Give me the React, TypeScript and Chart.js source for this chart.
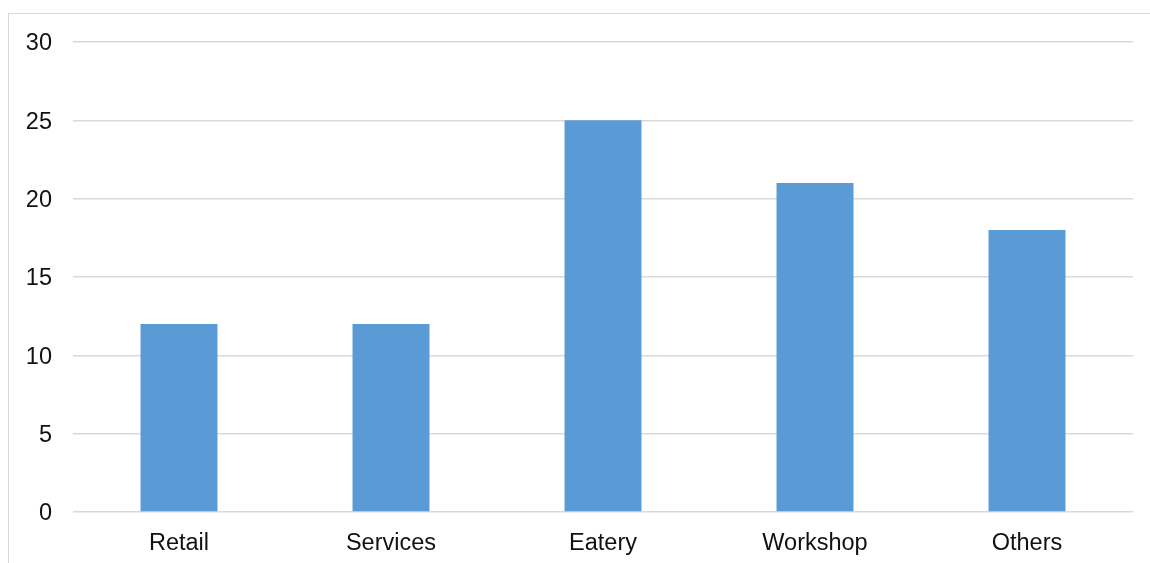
import React, { useEffect, useRef } from "react";
import { Chart, registerables } from "chart.js";

Chart.register(...registerables);

const categories = ["Retail", "Services", "Eatery", "Workshop", "Others"];
const values = [12, 12, 25, 21, 18];
const yMin = 0;
const yMax = 30;
const yStep = 5;

export default function App() {
  const ref = useRef<HTMLCanvasElement>(null);
  useEffect(() => {
    if (!ref.current) return;
    const chart = new Chart(ref.current, {
      type: "bar",
      data: {
        labels: categories,
        datasets: [
          {
            data: values,
            backgroundColor: "#5b9bd5",
            borderWidth: 0,
            categoryPercentage: 1,
            barPercentage: 0.363,
          },
        ],
      },
      options: {
        animation: false,
        responsive: false,
        maintainAspectRatio: false,
        layout: { padding: { left: 0, right: 17, top: 42, bottom: 0 } },
        plugins: { legend: { display: false }, tooltip: { enabled: false } },
        scales: {
          x: {
            grid: { display: false, drawTicks: false },
            border: { display: false },
            ticks: {
              color: "#111",
              font: { family: "'Liberation Sans', Arial, sans-serif", size: 23.5 },
              padding: 17,
            },
            afterFit: (s: any) => {
              s.height = 51;
            },
          },
          y: {
            min: yMin,
            max: yMax,
            grid: { color: "#d9d9d9", lineWidth: 1.5, drawTicks: false },
            border: { display: false },
            ticks: {
              stepSize: yStep,
              color: "#111",
              font: { family: "'Liberation Sans', Arial, sans-serif", size: 23.5 },
              padding: 21,
              labelOffset: 2,
            },
            afterFit: (s: any) => {
              s.width = 73;
            },
          },
        },
      },
    });
    return () => chart.destroy();
  }, []);
  return (
    <div style={{ position: "fixed", left: 0, top: 0, width: 1150, height: 563, background: "#fff", overflow: "hidden" }}>
      <div
        style={{
          position: "absolute",
          left: 8,
          top: 13,
          width: 1300,
          height: 700,
          border: "1.5px solid #d9d9d9",
        }}
      />
      <canvas ref={ref} width={1150} height={563} style={{ position: "absolute", left: 0, top: 0, width: 1150, height: 563 }} />
    </div>
  );
}
